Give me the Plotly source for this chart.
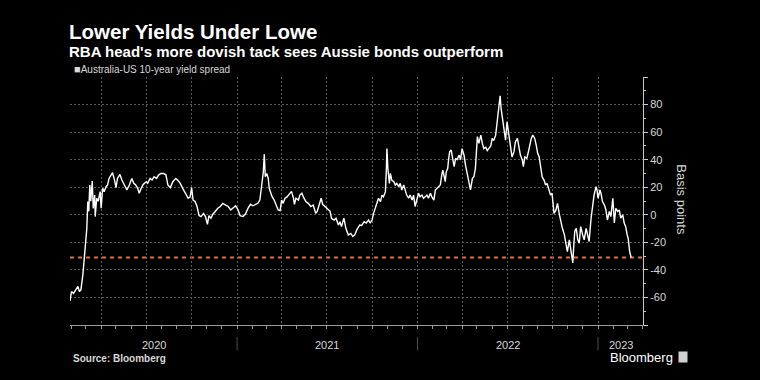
import plotly.graph_objects as go
import pandas as pd

# ---------------- data ----------------
dates = [
"2020-01-29","2020-02-01","2020-02-05","2020-02-10","2020-02-14","2020-02-17","2020-02-20","2020-02-24","2020-02-26","2020-02-29",
"2020-03-03","2020-03-05","2020-03-07","2020-03-09","2020-03-11","2020-03-14","2020-03-16","2020-03-19","2020-03-20","2020-03-23",
"2020-03-26","2020-03-30","2020-04-01","2020-04-04","2020-04-07","2020-04-11","2020-04-14","2020-04-17","2020-04-21","2020-04-24",
"2020-04-28","2020-05-01","2020-05-04","2020-05-09","2020-05-13","2020-05-18","2020-05-23","2020-05-28","2020-06-02","2020-06-06",
"2020-06-10","2020-06-14","2020-06-17","2020-06-21","2020-06-25","2020-07-01","2020-07-04","2020-07-09","2020-07-13","2020-07-17",
"2020-07-22","2020-07-26","2020-07-31","2020-08-05","2020-08-10","2020-08-14","2020-08-19","2020-08-24","2020-08-30","2020-09-03",
"2020-09-08","2020-09-13","2020-09-19","2020-09-24","2020-09-28","2020-10-01","2020-10-04","2020-10-08","2020-10-12","2020-10-16",
"2020-10-20","2020-10-25","2020-10-29","2020-11-02","2020-11-05","2020-11-09","2020-11-13","2020-11-19","2020-11-23","2020-11-28",
"2020-12-03","2020-12-09","2020-12-14","2020-12-19","2020-12-24","2020-12-29","2021-01-03","2021-01-07","2021-01-13","2021-01-18",
"2021-01-23","2021-01-28","2021-02-02","2021-02-08","2021-02-12","2021-02-16","2021-02-18","2021-02-20","2021-02-23","2021-02-25",
"2021-02-27","2021-03-02","2021-03-05","2021-03-07","2021-03-10","2021-03-13","2021-03-17","2021-03-21","2021-03-25","2021-03-29",
"2021-04-01","2021-04-04","2021-04-08","2021-04-12","2021-04-18","2021-04-21","2021-04-25","2021-04-27","2021-04-30","2021-05-05",
"2021-05-08","2021-05-12","2021-05-15","2021-05-20","2021-05-25","2021-05-30","2021-06-04","2021-06-09","2021-06-12","2021-06-16",
"2021-06-20","2021-06-23","2021-06-28","2021-07-02","2021-07-08","2021-07-11","2021-07-16","2021-07-20","2021-07-25","2021-07-28",
"2021-07-31","2021-08-05","2021-08-09","2021-08-14","2021-08-19","2021-08-23","2021-08-27","2021-08-31","2021-09-03","2021-09-06",
"2021-09-10","2021-09-15","2021-09-19","2021-09-24","2021-09-27","2021-10-01","2021-10-04","2021-10-07","2021-10-11","2021-10-14",
"2021-10-18","2021-10-21","2021-10-24","2021-10-28","2021-10-30","2021-10-31","2021-11-02","2021-11-05","2021-11-07","2021-11-10",
"2021-11-14","2021-11-17","2021-11-20","2021-11-24","2021-11-27","2021-11-30","2021-12-04","2021-12-07","2021-12-10","2021-12-14",
"2021-12-17","2021-12-21","2021-12-24","2021-12-27","2021-12-31","2022-01-03","2022-01-06","2022-01-10","2022-01-13","2022-01-17",
"2022-01-20","2022-01-23","2022-01-27","2022-01-30","2022-02-03","2022-02-06","2022-02-09","2022-02-13","2022-02-16","2022-02-19",
"2022-02-21","2022-02-24","2022-02-26","2022-02-28","2022-03-03","2022-03-05","2022-03-07","2022-03-10","2022-03-13","2022-03-16",
"2022-03-19","2022-03-22","2022-03-26","2022-03-29","2022-04-01","2022-04-05","2022-04-08","2022-04-12","2022-04-15","2022-04-18",
"2022-04-22","2022-04-25","2022-04-28","2022-05-02","2022-05-05","2022-05-09","2022-05-12","2022-05-15","2022-05-19","2022-05-22",
"2022-05-25","2022-05-29","2022-06-01","2022-06-04","2022-06-08","2022-06-10","2022-06-13","2022-06-15","2022-06-17","2022-06-19",
"2022-06-21","2022-06-25","2022-06-28","2022-07-01","2022-07-05","2022-07-08","2022-07-11","2022-07-15","2022-07-18","2022-07-22",
"2022-07-25","2022-07-28","2022-08-01","2022-08-03","2022-08-06","2022-08-10","2022-08-14","2022-08-19","2022-08-22","2022-08-26",
"2022-08-29","2022-09-01","2022-09-04","2022-09-07","2022-09-10","2022-09-14","2022-09-17","2022-09-20","2022-09-24","2022-09-27",
"2022-09-30","2022-10-04","2022-10-08","2022-10-11","2022-10-15","2022-10-18","2022-10-21","2022-10-25","2022-10-28","2022-10-31",
"2022-11-04","2022-11-07","2022-11-11","2022-11-13","2022-11-15","2022-11-18","2022-11-21","2022-11-24","2022-11-27","2022-12-01",
"2022-12-04","2022-12-08","2022-12-11","2022-12-14","2022-12-18","2022-12-21","2022-12-24","2022-12-28","2022-12-30","2023-01-01",
"2023-01-05","2023-01-07","2023-01-10","2023-01-14","2023-01-17","2023-01-20","2023-01-24","2023-01-27","2023-01-31","2023-02-03",
"2023-02-06","2023-02-10","2023-02-13","2023-02-16","2023-02-20","2023-02-23","2023-02-26","2023-03-01","2023-03-03","2023-03-06",
"2023-03-09",
]

spread_bp = [
-62.5,-55.7,-57,-54.5,-52,-55.7,-54.5,-43.6,-34,-24,
-10,9.6,2.5,21.6,9.8,24.5,4.7,14.3,-1.3,12,
9.8,16.8,4.7,19.2,16.8,20.4,21.6,26.4,28.8,30.6,
25.2,19.7,26.4,29.3,25.2,21.6,18,21.6,26.4,22.8,
21.6,19.2,15.6,19.2,22,24,22.8,26.4,25.2,27.6,
26.4,28.8,30,30,29,21.6,19.7,24,26.4,25,
22.8,19.2,15.6,12,13,19.7,10.7,9.6,6,-0.6,
-1.3,1,-1.3,-7,-0.6,-2.5,0.4,3.5,4.7,6,
8.3,7,6,3.5,4.7,6.5,3.5,-0.6,-1.3,0.5,
4.7,7.6,6.5,7.6,8.3,10.7,15,22,31,44,
27.6,30,26.4,19.2,16,13,10.7,7,3.5,3,
10.7,8.3,12,13,16.3,17,12,7.6,12,10.7,
14.3,15.6,13,9.6,8.3,6,7,1,2.5,8.3,
12,7.6,6,4.7,2.5,-2.5,-3.8,-2.5,-7.4,-5,
-8.6,-2.5,-9.8,-14.6,-13.5,-15.8,-14.6,-11,-8.6,-7.4,
-7.7,-5,-6,-3.8,-6,-3.8,1,4.7,8.3,12,
9.6,14.3,13,16.8,33.7,48,33.7,22.8,30,25,
24,21.6,22.8,20.4,22.8,18,21.6,16.8,14.3,12,
14.3,10.7,14.3,6,12,15.6,13,14.3,12,13,
14.3,12,15.6,13,10.7,18,19.2,20.4,21.6,29,
32.4,27.6,24,31,33.7,41,45.8,47,41,35,
41,40,43.3,40,48,43.3,36,27.6,24,18,
26.4,27.6,33.7,56.7,51.8,57.8,51.8,48,49,46.6,
48,50,55.4,54,57.8,65,72.3,82,86.4,77,
72.3,62.7,54.2,67.5,56.8,48,42,45.8,53,55.4,
48,43.3,39.7,35,42,41,47,55.4,57.8,55.4,
50.6,44.6,42,33.7,27.6,25,21.6,22.8,18,14.3,
15.6,1,3.5,8.3,0,-6,-9.8,-14.6,-20.7,-26.7,
-18.2,-25.5,-35,-22,-12,-9.8,-18,-20.7,-8.6,-14.6,
-18.2,-9.8,-15.8,-19.4,-2.5,6,14.3,20.4,18,12,
18,15.6,9.6,7,3.5,-3.8,2.5,-1.3,12,-6,
4.7,2.5,3.5,-2.5,0,-6,-8.6,-14.6,-17,-26.7,
-31,
]

reference_level_bp = -31          # dashed orange line
x_range = ["2020-01-29", "2023-04-02"]
y_range = [-80, 100]
y_ticks = [-80, -60, -40, -20, 0, 20, 40, 60, 80, 100]
y_ticktext = ["", "-60", "-40", "-20", "0", "20", "40", "60", "80", ""]
years = [2020, 2021, 2022, 2023]

title = "Lower Yields Under Lowe"
subtitle = "RBA head's more dovish tack sees Aussie bonds outperform"
series_name = "Australia-US 10-year yield spread"
source = "Source: Bloomberg"

# ---------------- figure ----------------
FONT = "Liberation Sans, Arial, sans-serif"
TXT = "#d8d8d8"
GRID = "#5a5a5a"

fig = go.Figure()
fig.add_trace(go.Scatter(
    x=pd.to_datetime(dates), y=spread_bp, mode="lines",
    line=dict(color="#ffffff", width=1.4), name=series_name,
    showlegend=False,
))

fig.add_shape(type="line", xref="paper", yref="y", x0=0, x1=1,
              y0=reference_level_bp, y1=reference_level_bp,
              line=dict(color="#e0703c", width=2, dash="4px,4px"), layer="below")

fig.update_layout(
    width=760, height=380,
    margin=dict(l=70, r=117, t=77, b=55),
    paper_bgcolor="#000000", plot_bgcolor="#000000",
    font=dict(family=FONT, color=TXT, size=11),
)

fig.update_xaxes(
    type="date", range=x_range,
    showgrid=True, gridcolor=GRID, griddash="2px,2px", gridwidth=1,
    tick0="2020-01-01", dtick="M3",
    showticklabels=False,
    ticks="outside", ticklen=3, tickcolor="#9a9a9a",
    minor=dict(dtick="M1", ticks="outside", ticklen=3, tickcolor="#9a9a9a", showgrid=False),
    showline=True, linecolor="#9a9a9a", linewidth=1,
    zeroline=False,
)
fig.update_yaxes(
    range=y_range, side="right",
    tickvals=y_ticks, ticktext=y_ticktext,
    showgrid=True, gridcolor=GRID, griddash="2px,2px", gridwidth=1,
    ticks="outside", ticklen=4, tickcolor="#c8c8c8",
    minor=dict(dtick=10, ticks="outside", ticklen=2, tickcolor="#c8c8c8", showgrid=False),
    showline=True, linecolor="#c8c8c8", linewidth=1,
    zeroline=False,
    tickfont=dict(size=11, color=TXT, family=FONT),
)

# year labels centred in the visible part of each year, with separators
r0, r1 = pd.Timestamp(x_range[0]), pd.Timestamp(x_range[1])
for yr in years:
    a = max(pd.Timestamp(f"{yr}-01-01"), r0)
    b = min(pd.Timestamp(f"{yr + 1}-01-01"), r1)
    mid = a + (b - a) / 2
    fig.add_annotation(x=mid, y=-0.08, xref="x", yref="paper", text=str(yr),
                       showarrow=False, font=dict(size=11, color=TXT, family=FONT),
                       yanchor="middle")
    if pd.Timestamp(f"{yr}-01-01") > r0:
        fig.add_shape(type="line", xref="x", yref="paper",
                      x0=f"{yr}-01-01", x1=f"{yr}-01-01", y0=-0.048, y1=-0.102,
                      line=dict(color="#4f4f4f", width=1))

# titles and text
fig.add_annotation(x=-0.003, y=1.184, xref="paper", yref="paper", text=f"<b>{title}</b>",
                   showarrow=False, xanchor="left", yanchor="middle", borderpad=0,
                   font=dict(size=20.5, color="#ffffff", family=FONT))
fig.add_annotation(x=-0.003, y=1.104, xref="paper", yref="paper", text=f"<b>{subtitle}</b>",
                   showarrow=False, xanchor="left", yanchor="middle", borderpad=0,
                   font=dict(size=15, color="#ffffff", family=FONT))
fig.add_annotation(x=0.006, y=1.034, xref="paper", yref="paper",
                   text="<span style='font-size:11px'>■</span>" + series_name,
                   showarrow=False, xanchor="left", yanchor="middle", borderpad=0,
                   font=dict(size=10, color=TXT, family=FONT))
fig.add_annotation(x=1.0675, y=0.504, xref="paper", yref="paper", text="Basis points",
                   showarrow=False, textangle=90, xanchor="center", yanchor="middle",
                   font=dict(size=13, color=TXT, family=FONT))
fig.add_annotation(x=0.002, y=-0.136, xref="paper", yref="paper", text=f"<b>{source}</b>",
                   showarrow=False, xanchor="left", yanchor="middle",
                   font=dict(size=10, color=TXT, family=FONT))
fig.add_annotation(x=1.056, y=-0.133, xref="paper", yref="paper", text="Bloomberg",
                   showarrow=False, xanchor="right", yanchor="middle",
                   font=dict(size=13, color="#ffffff", family=FONT))
fig.add_annotation(x=1.069, y=-0.13, xref="paper", yref="paper", text=" ",
                   showarrow=False, xanchor="center", yanchor="middle",
                   width=6, height=8, bgcolor="#d0d0d0", font=dict(size=6))

fig.write_html(
    "out.html",
    config={"displayModeBar": False},
    post_script="document.body.style.margin='0';document.body.style.background='#000';",
)
